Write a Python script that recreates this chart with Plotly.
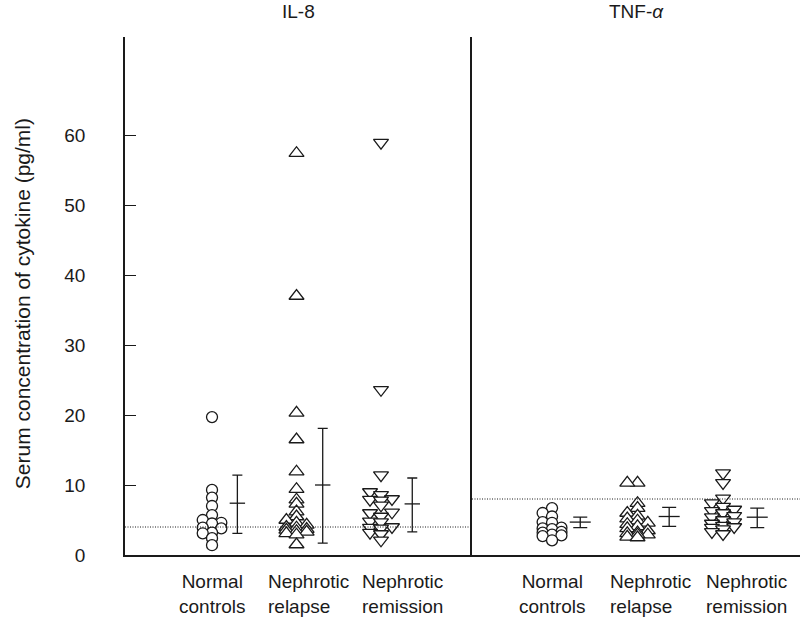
import plotly.graph_objects as go

# ---------------- data ----------------
categories = ["Normal<br>controls", "Nephrotic<br>relapse", "Nephrotic<br>remission"]
panel_titles = ["IL-8", "TNF-<i>α</i>"]

il8_normal = [19.7, 9.3, 8.2, 7.0, 5.7, 5.0, 4.6, 4.5, 3.9, 3.8, 3.2, 3.1, 2.4, 1.4]
il8_relapse = [57.4, 37.0, 20.3, 16.5, 11.9, 9.4, 7.9, 7.3, 6.2, 5.5, 5.0, 4.6, 4.3,
               4.0, 3.9, 3.7, 3.6, 3.4, 3.3, 3.1, 2.9, 1.5]
il8_remission = [58.9, 23.6, 11.4, 9.0, 8.6, 8.0, 7.9, 7.8, 7.1, 6.1, 6.0, 5.5, 4.8,
                 4.7, 4.0, 3.9, 3.8, 3.2, 3.0, 2.1]

tnf_normal = [6.7, 6.0, 5.5, 4.7, 4.6, 3.9, 3.8, 3.7, 3.3, 3.2, 2.9, 2.8, 2.7, 2.1]
tnf_relapse = [10.3, 10.3, 7.4, 6.7, 6.0, 5.6, 5.2, 4.9, 4.6, 4.4, 4.1, 3.8, 3.5,
               3.2, 3.1, 2.9, 2.9, 2.6, 2.5]
tnf_remission = [11.7, 10.3, 8.1, 7.4, 6.9, 6.5, 6.3, 6.0, 5.6, 5.4, 5.0, 4.7, 4.5,
                 4.2, 4.0, 3.9, 3.7, 3.3, 3.0]

# mean, lower, upper of the error bars
il8_mean = [7.4, 10.0, 7.3]
il8_low = [3.1, 1.7, 3.3]
il8_high = [11.4, 18.1, 11.0]
tnf_mean = [4.7, 5.5, 5.4]
tnf_low = [3.9, 4.1, 3.9]
tnf_high = [5.4, 6.8, 6.7]

il8_cutoff = 4.0
tnf_cutoff = 8.0

y_ticks = [0, 10, 20, 30, 40, 50, 60]
y_title = "Serum concentration of cytokine (pg/ml)"

# ---------------- helpers ----------------
def swarm(vals, step, gap):
    placed = []
    xs = [0.0] * len(vals)
    order = sorted(range(len(vals)), key=lambda i: vals[i])
    slots = [0, -1, 1]
    for i in order:
        v = vals[i]
        best, best_d = 0, -1.0
        for k in slots:
            dmin = min([abs(v - pv) for s, pv in placed if s == k], default=1e9)
            if dmin >= gap:
                best = k
                break
            if dmin > best_d:
                best, best_d = k, dmin
        placed.append((best, v))
        xs[i] = best * step
    return xs


FONT = "Arial, Liberation Sans, Helvetica, sans-serif"
INK = "#1a1a1a"

fig = go.Figure()

panels = [
    dict(xa="x", ya="y", groups=[il8_normal, il8_relapse, il8_remission],
         mean=il8_mean, low=il8_low, high=il8_high, cut=il8_cutoff,
         eb_off=[0.30, 0.31, 0.37], capw=5),
    dict(xa="x2", ya="y2", groups=[tnf_normal, tnf_relapse, tnf_remission],
         mean=tnf_mean, low=tnf_low, high=tnf_high, cut=tnf_cutoff,
         eb_off=[0.33, 0.37, 0.40], capw=7),
]
symbols = ["circle", "triangle-up", "triangle-down"]
sizes = [11, 13, 13]
gaps = [0.8, 0.6, 0.6]
steps = [0.11, 0.12, 0.13]

for p in panels:
    for gi, vals in enumerate(p["groups"]):
        cat = gi + 1
        offs = swarm(vals, steps[gi], gaps[gi])
        fig.add_trace(go.Scatter(
            x=[cat + o for o in offs], y=vals, xaxis=p["xa"], yaxis=p["ya"],
            mode="markers", showlegend=False, hoverinfo="y",
            marker=dict(symbol=symbols[gi], size=sizes[gi], color="white",
                        line=dict(color=INK, width=1.3)),
        ))
    # error bars
    ex = [i + 1 + p["eb_off"][i] for i in range(3)]
    fig.add_trace(go.Scatter(
        x=ex, y=p["mean"], xaxis=p["xa"], yaxis=p["ya"], mode="markers",
        showlegend=False,
        marker=dict(symbol="line-ew-open", size=2 * p["capw"] + 1, color=INK,
                    line=dict(color=INK, width=1.3)),
        error_y=dict(type="data", symmetric=False,
                     array=[h - m for h, m in zip(p["high"], p["mean"])],
                     arrayminus=[m - l for m, l in zip(p["mean"], p["low"])],
                     color=INK, thickness=1.3, width=p["capw"]),
    ))
    # dotted cutoff line
    fig.add_shape(type="line", xref=p["xa"] + " domain", yref=p["ya"],
                  x0=0, x1=1, y0=p["cut"], y1=p["cut"],
                  line=dict(color=INK, width=1, dash="1px,1.5px"))

# category labels
label_shift = [0.0, 0.14, 0.26]
label_align = ["center", "left", "right"]
for xa, shift_extra in (("x", 0.0), ("x2", 0.01)):
    for i, c in enumerate(categories):
        fig.add_annotation(
            x=i + 1 + label_shift[i] + shift_extra, y=0, xref=xa, yref="y",
            yshift=-14, yanchor="top", xanchor="center", align=label_align[i],
            text=c, showarrow=False,
            font=dict(family=FONT, size=19, color=INK))

# panel titles
for xa, t in (("x", panel_titles[0]), ("x2", panel_titles[1])):
    fig.add_annotation(x=0.5, xref=xa + " domain", y=1, yref="paper",
                       yshift=13, yanchor="bottom", text=t, showarrow=False,
                       font=dict(family=FONT, size=19, color=INK))

fig.add_annotation(x=-0.152, xref="paper", y=0.485, yref="paper",
                   text=y_title, textangle=-90, showarrow=False,
                   xanchor="center", yanchor="middle",
                   font=dict(family=FONT, size=21, color=INK))

d = 347 / 675
axis_common = dict(showgrid=False, zeroline=False)
fig.update_layout(
    width=800, height=623,
    margin=dict(l=125, r=0, t=37, b=68),
    paper_bgcolor="white", plot_bgcolor="white",
    xaxis=dict(domain=[0, d], range=[-0.03, 4.077], showticklabels=False,
               ticks="", showline=True, linecolor=INK, linewidth=1.5,
               **axis_common),
    xaxis2=dict(domain=[d, 1], range=[0.064, 3.90], showticklabels=False,
                ticks="", showline=True, linecolor=INK, linewidth=1.5,
                **axis_common),
    yaxis=dict(range=[0, 74], tickvals=y_ticks, ticks="inside", ticklen=11,
               tickcolor=INK, tickwidth=1.3, showline=True, linecolor=INK,
               linewidth=1.5, ticklabelstandoff=34,
               tickfont=dict(family=FONT, size=19, color=INK),
               anchor="x", **axis_common),
    yaxis2=dict(range=[0, 74], showticklabels=False, ticks="", showline=True,
                linecolor=INK, linewidth=1.5, anchor="x2", matches="y",
                **axis_common),
)

fig.write_html("out.html")
